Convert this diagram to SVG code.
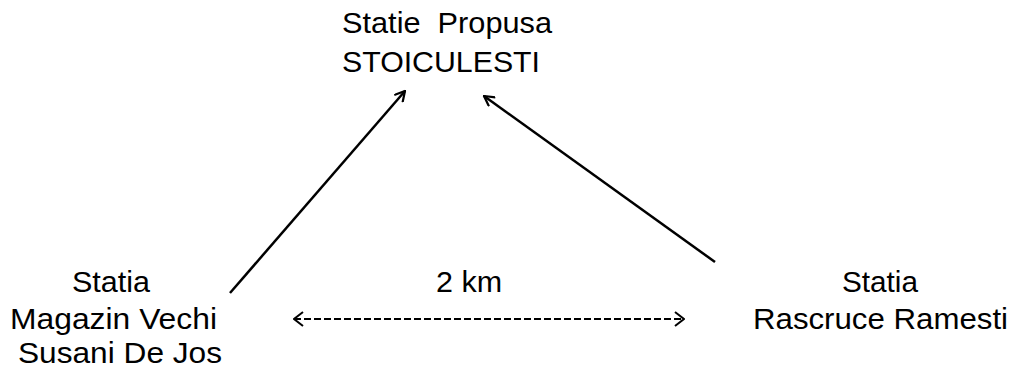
<svg xmlns="http://www.w3.org/2000/svg" width="1011" height="370" viewBox="0 0 1011 370">
  <style>
    text { font-family: "Liberation Sans", Arial, sans-serif; font-size: 30px; fill: #000; text-anchor: middle; }
    .conn { stroke: #000; fill: none; }
    .main { stroke-width: 2.5; marker-end: url(#arrowBig); }
    .dist { stroke-width: 1.8; stroke-dasharray: 7 3; marker-start: url(#arrowSmall); marker-end: url(#arrowSmall); }
  </style>
  <defs>
    <marker id="arrowBig" viewBox="0 0 12 12" refX="11" refY="6" markerWidth="12" markerHeight="12" markerUnits="userSpaceOnUse" orient="auto">
      <path d="M1,0.5 L11,6 L1,11.5" fill="none" stroke="#000" stroke-width="2.2"/>
    </marker>
    <marker id="arrowSmall" viewBox="0 0 12 16" refX="11" refY="8" markerWidth="12" markerHeight="16" markerUnits="userSpaceOnUse" orient="auto-start-reverse">
      <path d="M2,1 L11,8 L2,15" fill="none" stroke="#000" stroke-width="2"/>
    </marker>
  </defs>
  <g id="connectors">
    <line class="conn main" x1="230" y1="293" x2="405" y2="91"/>
    <line class="conn main" x1="715" y1="262" x2="484" y2="96"/>
    <line class="conn dist" x1="294" y1="319" x2="684" y2="319"/>
  </g>
  <g id="node-stoiculesti">
    <text x="447" y="33" xml:space="preserve" textLength="210" lengthAdjust="spacingAndGlyphs">Statie  Propusa</text>
    <text x="441" y="72" textLength="198" lengthAdjust="spacingAndGlyphs">STOICULESTI</text>
  </g>
  <g id="node-magazin-vechi">
    <text x="111" y="292" textLength="78" lengthAdjust="spacingAndGlyphs">Statia</text>
    <text x="113.5" y="329" textLength="207" lengthAdjust="spacingAndGlyphs">Magazin Vechi</text>
    <text x="120" y="363" textLength="204" lengthAdjust="spacingAndGlyphs">Susani De Jos</text>
  </g>
  <g id="node-rascruce-ramesti">
    <text x="880" y="292" textLength="76" lengthAdjust="spacingAndGlyphs">Statia</text>
    <text x="880.5" y="329" textLength="255" lengthAdjust="spacingAndGlyphs">Rascruce Ramesti</text>
  </g>
  <g id="label-distance">
    <text x="469" y="292" textLength="66" lengthAdjust="spacingAndGlyphs">2 km</text>
  </g>
</svg>
